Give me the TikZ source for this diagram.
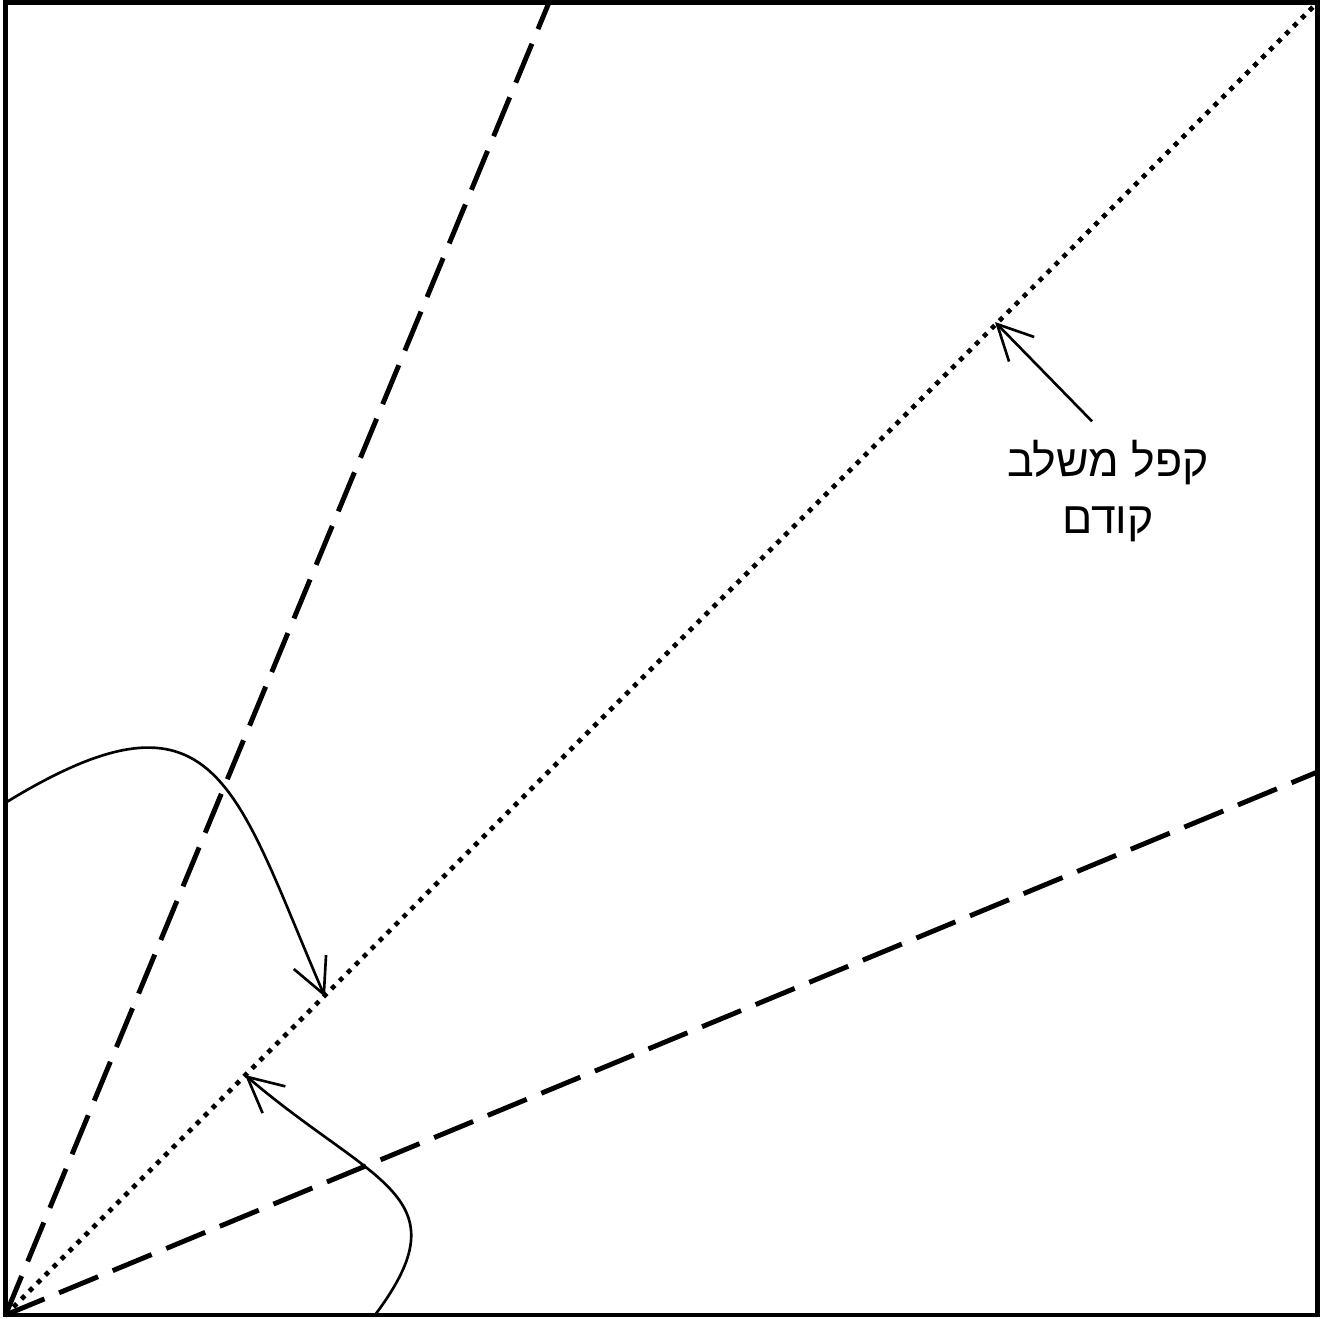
\documentclass[tikz,border=0pt]{standalone}
\usepackage{fontspec}
\newfontfamily\hebfont[Script=Hebrew]{Liberation Sans}
\TeXXeTstate=1
\usetikzlibrary{arrows.meta}

\tikzset{
  frame/.style={draw=black, line width=1.4pt},
  foldline/.style={draw=black, line width=1.4pt, dash pattern=on 12pt off 4.5pt},
  prevfold/.style={draw=black, line width=1.35pt, dash pattern=on 1.35pt off 1.85pt},
  pointer/.style={draw=black, line width=0.75pt, -{Straight Barb[length=10pt, width=10pt]}},
  hebnote/.style={font=\hebfont\fontsize{12.7}{16}\selectfont, align=center, inner sep=1pt}
}

\begin{document}
\begin{tikzpicture}

  \useasboundingbox (0,0) rectangle (13.22,13.18);

  % --- THE SQUARE SHEET ---
  \draw[frame] (0.055,0.03) rectangle (13.175,13.155);

  % --- CORNER AND FOLD ENDS ---
  \coordinate (corner) at (0.055,0.03);
  \coordinate (topend) at (5.49,13.155);
  \coordinate (rightend) at (13.175,5.46);
  \coordinate (diagend) at (13.175,13.155);

  % new folds (dashed) and the previous fold (dotted)
  \draw[foldline] (corner) -- (topend);
  \draw[foldline] (corner) -- (rightend);
  \draw[prevfold] (corner) -- (diagend);

  % --- FOLDING ARROWS ---
  \coordinate (upperstart) at (0.05,5.15);
  \coordinate (uppertip) at (3.25,3.21);
  \draw[pointer] (upperstart) .. controls (2.17,6.45) and (2.34,5.32) .. (uppertip);

  \coordinate (lowerstart) at (3.75,0.03);
  \coordinate (lowertip) at (2.45,2.43);
  \draw[pointer] (lowerstart) .. controls (4.65,1.23) and (3.74,1.33) .. (lowertip);

  % --- LABEL OF THE PREVIOUS FOLD ---
  \node[hebnote] (prevlabel) at (11.08,8.27) {\beginR קפל משלב\endR\\\beginR קודם\endR};
  \coordinate (prevtip) at (9.95,9.96);
  \draw[pointer] ([xshift=-0.16cm, yshift=0.15cm]prevlabel.north) -- (prevtip);

\end{tikzpicture}
\end{document}
